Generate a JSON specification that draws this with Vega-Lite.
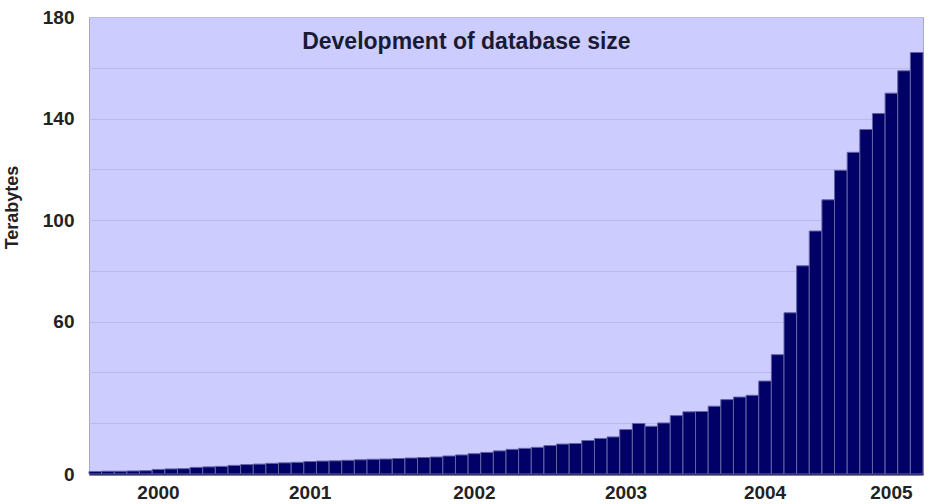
{
  "$schema": "https://vega.github.io/schema/vega-lite/v6.json",
  "autosize": "none",
  "width": 834,
  "height": 457,
  "padding": {"left": 89, "top": 17, "right": 9, "bottom": 30},
  "background": "#ffffff",
  "config": {
    "view": {"fill": "#ccccff", "stroke": "#a8a8b8", "strokeWidth": 1},
    "axis": {"labelFont": "Liberation Sans", "titleFont": "Liberation Sans"}
  },
  "layer": [
    {
      "data": {
        "values": [
          {"n": 1, "tb": 1.0}, {"n": 2, "tb": 1.1}, {"n": 3, "tb": 1.1}, {"n": 4, "tb": 1.2},
          {"n": 5, "tb": 1.3}, {"n": 6, "tb": 1.8}, {"n": 7, "tb": 2.0}, {"n": 8, "tb": 2.1},
          {"n": 9, "tb": 2.6}, {"n": 10, "tb": 2.8}, {"n": 11, "tb": 3.0}, {"n": 12, "tb": 3.4},
          {"n": 13, "tb": 3.7}, {"n": 14, "tb": 3.9}, {"n": 15, "tb": 4.2}, {"n": 16, "tb": 4.4},
          {"n": 17, "tb": 4.6}, {"n": 18, "tb": 4.9}, {"n": 19, "tb": 5.1}, {"n": 20, "tb": 5.2},
          {"n": 21, "tb": 5.4}, {"n": 22, "tb": 5.6}, {"n": 23, "tb": 5.8}, {"n": 24, "tb": 5.9},
          {"n": 25, "tb": 6.1}, {"n": 26, "tb": 6.3}, {"n": 27, "tb": 6.5}, {"n": 28, "tb": 6.7},
          {"n": 29, "tb": 7.1}, {"n": 30, "tb": 7.5}, {"n": 31, "tb": 8.0}, {"n": 32, "tb": 8.5},
          {"n": 33, "tb": 9.1}, {"n": 34, "tb": 9.7}, {"n": 35, "tb": 10.1}, {"n": 36, "tb": 10.5},
          {"n": 37, "tb": 11.2}, {"n": 38, "tb": 11.8}, {"n": 39, "tb": 12.0}, {"n": 40, "tb": 13.2},
          {"n": 41, "tb": 14.0}, {"n": 42, "tb": 14.6}, {"n": 43, "tb": 17.5}, {"n": 44, "tb": 19.9},
          {"n": 45, "tb": 18.8}, {"n": 46, "tb": 20.1}, {"n": 47, "tb": 23.0}, {"n": 48, "tb": 24.5},
          {"n": 49, "tb": 24.6}, {"n": 50, "tb": 26.7}, {"n": 51, "tb": 29.3}, {"n": 52, "tb": 30.3},
          {"n": 53, "tb": 31.0}, {"n": 54, "tb": 36.6}, {"n": 55, "tb": 47.0}, {"n": 56, "tb": 63.5},
          {"n": 57, "tb": 82.0}, {"n": 58, "tb": 95.7}, {"n": 59, "tb": 108.0}, {"n": 60, "tb": 119.6},
          {"n": 61, "tb": 126.7}, {"n": 62, "tb": 135.7}, {"n": 63, "tb": 142.0}, {"n": 64, "tb": 150.0},
          {"n": 65, "tb": 158.8}, {"n": 66, "tb": 166.0}
        ]
      },
      "mark": {"type": "bar", "fill": "#000066", "stroke": "#6464a4", "strokeWidth": 1},
      "encoding": {
        "x": {
          "field": "n",
          "type": "ordinal",
          "scale": {"paddingInner": 0, "paddingOuter": 0},
          "axis": {
            "title": null,
            "values": [6, 18, 31, 43, 54, 64],
            "labelExpr": "['2000','2001','2002','2003','2004','2005'][indexof([6,18,31,43,54,64], datum.value)]",
            "labelAngle": 0,
            "labelFontSize": 19,
            "labelFontWeight": "bold",
            "labelColor": "#222222",
            "labelPadding": 9,
            "ticks": false,
            "domain": true,
            "domainColor": "#000044",
            "domainWidth": 2
          }
        },
        "y": {
          "field": "tb",
          "type": "quantitative",
          "scale": {"domain": [0, 180], "nice": false, "zero": true},
          "axis": {
            "title": "Terabytes",
            "titleFontSize": 18,
            "titleFontWeight": "bold",
            "titleColor": "#222222",
            "titleX": -72,
            "titleY": 190,
            "titleAngle": -90,
            "titleBaseline": "alphabetic",
            "titleAlign": "center",
            "values": [0, 20, 40, 60, 80, 100, 120, 140, 160, 180],
            "labelExpr": "indexof([0,60,100,140,180], datum.value) >= 0 ? datum.label : ''",
            "labelFontSize": 19,
            "labelFontWeight": "bold",
            "labelColor": "#222222",
            "labelPadding": 15,
            "ticks": false,
            "domain": false,
            "grid": true,
            "gridColor": "#babae8",
            "gridWidth": 1
          }
        }
      }
    },
    {
      "data": {"values": [{"caption": "Development of database size", "n": 31, "tb": 170}]},
      "mark": {
        "type": "text",
        "font": "Liberation Sans",
        "fontSize": 23,
        "fontWeight": "bold",
        "color": "#1a1a33",
        "align": "center",
        "baseline": "middle",
        "dx": -8
      },
      "encoding": {
        "x": {"field": "n", "type": "ordinal"},
        "y": {"field": "tb", "type": "quantitative"},
        "text": {"field": "caption"}
      }
    }
  ]
}
